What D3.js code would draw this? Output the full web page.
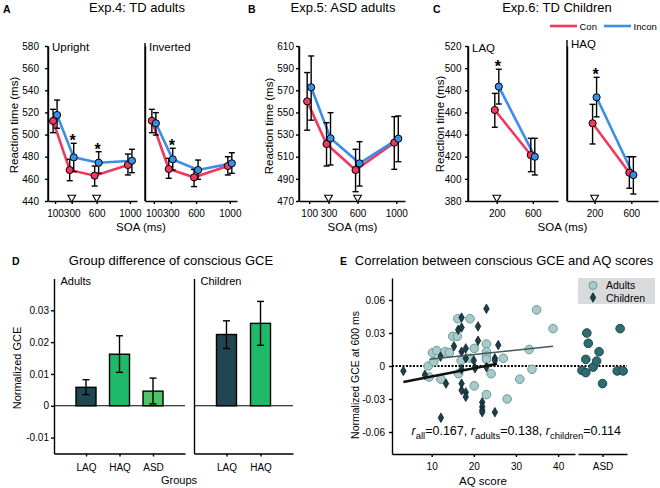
<!DOCTYPE html>
<html>
<head>
<meta charset="utf-8">
<script src="https://cdn.jsdelivr.net/npm/d3@7"></script>
<style>
body { margin: 0; background: #fff; }
svg { font-family: "Liberation Sans", Arial, sans-serif; }
.axis path, .axis line { stroke: #000; stroke-width: 1.4; }
.axis text { fill: #000; }
</style>
</head>
<body>
<svg id="fig" width="660" height="488"></svg>
<script>
// ---- panel A/B/C: reaction times (mean, lower and upper error) ----
const soaAdult = [100, 300, 600, 1000];
const soaChild = [200, 600];
const rtTicksA = [440, 460, 480, 500, 520, 540, 560, 580];
const rtTicksB = [470, 490, 510, 530, 550, 570, 590, 610];
const rtTicksC = [380, 400, 420, 440, 460, 480, 500, 520];

const upCon = [512.3, 468.0, 462.9, 472.5];
const upConLo = [501.7, 458.3, 453.5, 463.5];
const upConHi = [522.8, 477.7, 471.6, 482.4];
const upIncon = [517.7, 479.4, 474.6, 476.4];
const upInconLo = [505.7, 466.5, 465.0, 465.6];
const upInconHi = [531.2, 492.1, 484.5, 486.7];

const invCon = [512.5, 468.9, 461.4, 471.6];
const invConLo = [501.7, 460.5, 453.0, 463.5];
const invConHi = [522.8, 478.5, 468.5, 480.0];
const invIncon = [510.2, 477.6, 468.0, 474.0];
const invInconLo = [499.6, 468.0, 459.6, 465.0];
const invInconHi = [519.8, 487.6, 477.0, 483.6];

const asdCon = [560.0, 521.5, 498.0, 522.7];
const asdConLo = [534.0, 501.6, 478.4, 498.6];
const asdConHi = [586.0, 540.7, 516.7, 546.2];
const asdIncon = [572.7, 526.6, 504.0, 526.3];
const asdInconLo = [543.0, 502.5, 483.5, 505.5];
const asdInconHi = [601.0, 549.8, 523.6, 546.8];

const laqCon = [462.2, 421.5];
const laqConLo = [446.6, 406.5];
const laqConHi = [477.2, 436.6];
const laqIncon = [483.3, 420.0];
const laqInconLo = [467.6, 403.5];
const laqInconHi = [499.0, 436.6];

const haqCon = [450.2, 405.6];
const haqConLo = [431.5, 391.5];
const haqConHi = [467.3, 420.0];
const haqIncon = [473.7, 403.5];
const haqInconLo = [456.0, 386.3];
const haqInconHi = [491.7, 420.0];

// ---- panel D: normalized GCE per group ----
const groupsAdult = ["LAQ", "HAQ", "ASD"];
const gceAdult = [0.0058, 0.0162, 0.0046];
const gceAdultLo = [0.0035, 0.0105, 0.0006];
const gceAdultHi = [0.0082, 0.0220, 0.0087];
const groupsChild = ["LAQ", "HAQ"];
const gceChild = [0.0224, 0.0259];
const gceChildLo = [0.0180, 0.0190];
const gceChildHi = [0.0267, 0.0328];
const gceTicks = [-0.01, 0, 0.01, 0.02, 0.03];

// ---- panel E: AQ score vs GCE at 600 ms ----
const adultsPts = [[9.2,0.000],[9.4,-0.010],[10.2,0.012],[10.5,0.004],[11.2,0.014],[12.2,-0.012],
  [13.2,0.013],[14.2,0.012],[15.0,0.027],[16.1,0.027],[16.2,0.043],[16.4,-0.007],[17.0,0.005],
  [19.1,0.043],[19.2,0.007],[20.1,0.016],[20.1,-0.018],[23.0,0.020],[23.0,0.013],[23.0,0.009],
  [23.0,0.006],[23.0,-0.026],[24.1,-0.007],[27.0,0.007],[27.9,-0.030],[30.9,-0.012],[33.1,0.015],
  [33.8,-0.003],[34.9,0.051],[38.8,0.034]];
const childrenPts = [[3.3,-0.0045],[8.4,-0.008],[12.1,0.0085],[12.2,-0.047],[13.4,-0.016],[15.3,0.018],
  [16.3,0.033],[17.1,0.044],[17.1,0.035],[17.1,0.013],[17.1,-0.003],[17.1,-0.016],[17.1,-0.022],
  [18.1,0.016],[18.1,0.007],[18.1,-0.024],[18.1,-0.028],[20.3,-0.002],[20.0,0.005],[21.0,0.036],
  [21.0,0.023],[22.0,-0.033],[22.0,-0.037],[22.0,-0.040],[22.0,-0.042],[23.0,0.052],[23.0,-0.001],
  [25.0,0.007],[25.0,0.005],[25.8,0.019],[25.0,-0.042]];
// ASD adults: [jitter within ASD column, GCE]
const asdPts = [[0.18,0.030],[0.21,0.0206],[0.16,0.006],[0.08,-0.004],[0.16,-0.006],[0.31,-0.001],
  [0.43,0.013],[0.38,0.0045],[0.50,-0.016],[0.86,0.034],[0.80,-0.0045],[0.92,-0.0045]];
const fitAdults = [[9.5, 0.0062], [38.8, 0.018]];
const fitChildren = [[3.3, -0.0145], [25.5, 0.002]];
const aqTicks = [10, 20, 30, 40];
const corrTicks = [-0.06, -0.03, 0, 0.03, 0.06];

const conColor = "#f0395e", inconColor = "#3b8ee8";
const svg = d3.select("#fig");

function txt(x, y, s, size, opts) {
  opts = opts || {};
  var t = svg.append("text").attr("x", x).attr("y", y).text(s)
    .attr("font-size", size).attr("fill", "#000")
    .attr("text-anchor", opts.anchor || "start")
    .attr("font-weight", opts.bold ? "bold" : "normal");
  if (opts.rot) t.attr("transform", "rotate(-90," + x + "," + y + ")");
  return t;
}

// one reaction-time sub panel
function rtPanel(o) {
  var x = d3.scaleLinear().domain(o.xDomain).range([o.x0, o.x1]);
  var y = o.y;
  var g = svg.append("g");
  var y0 = y.range()[0];

  var yAx = d3.axisLeft(y).tickSize(3).tickSizeOuter(0).tickPadding(o.pad || 3);
  yAx.tickValues(o.ticks || []);
  g.append("g").attr("class", "axis").attr("font-size", 10)
    .attr("transform", "translate(" + o.x0 + ",0)").call(yAx);
  g.append("line").attr("x1", o.x0).attr("x2", o.x0).attr("y1", o.top).attr("y2", y0)
    .attr("stroke", "#000").attr("stroke-width", 1.4);
  g.append("g").attr("class", "axis").attr("font-size", 9)
    .attr("transform", "translate(0," + y0 + ")")
    .call(d3.axisBottom(x).tickValues(o.soa).tickFormat(d3.format("d"))
      .tickSize(3).tickSizeOuter(0).tickPadding(6));

  var series = [
    { m: o.con, lo: o.conLo, hi: o.conHi, c: conColor, dx: -2 },
    { m: o.incon, lo: o.inconLo, hi: o.inconHi, c: inconColor, dx: 2 }
  ];
  series.forEach(function(s) {
    s.pts = o.soa.map(function(v, i) {
      return { x: x(v) + s.dx, m: s.m[i], lo: s.lo[i], hi: s.hi[i] };
    });
    g.append("path").datum(s.pts)
      .attr("d", d3.line().x(d => d.x).y(d => y(d.m)))
      .attr("fill", "none").attr("stroke", s.c).attr("stroke-width", 2.6);
  });
  series.forEach(function(s) {
    var eb = g.selectAll(null).data(s.pts).enter().append("g").attr("stroke", "#000").attr("stroke-width", 1.4);
    eb.append("line").attr("x1", d => d.x).attr("x2", d => d.x).attr("y1", d => y(d.lo)).attr("y2", d => y(d.hi));
    eb.append("line").attr("x1", d => d.x - 3).attr("x2", d => d.x + 3).attr("y1", d => y(d.lo)).attr("y2", d => y(d.lo));
    eb.append("line").attr("x1", d => d.x - 3).attr("x2", d => d.x + 3).attr("y1", d => y(d.hi)).attr("y2", d => y(d.hi));
  });
  series.forEach(function(s) {
    g.selectAll(null).data(s.pts).enter().append("circle")
      .attr("cx", d => d.x).attr("cy", d => y(d.m)).attr("r", 3.6)
      .attr("fill", s.c).attr("stroke", "#000").attr("stroke-width", 1);
  });

  // significance stars above the incongruent error bar
  (o.stars || []).forEach(function(v) {
    var i = o.soa.indexOf(v);
    g.append("text").attr("x", x(v) + 1).attr("y", y(o.inconHi[i]) + 3)
      .attr("text-anchor", "middle").attr("font-size", 16).attr("font-weight", "bold").text("*");
  });
  (o.tris || []).forEach(function(v) {
    g.append("path").attr("d", d3.symbol(d3.symbolTriangle, 26)())
      .attr("transform", "translate(" + x(v) + "," + (y0 - 3.5) + ") rotate(180)")
      .attr("fill", "#fff").attr("stroke", "#000").attr("stroke-width", 1.1);
  });
  if (o.label) txt(o.x0 + 4, o.labelY || 51, o.label, 11.5);
}

var yA = d3.scaleLinear().domain([440, 580]).range([201, 46]);
var yB = d3.scaleLinear().domain([470, 610]).range([201, 46]);
var yC = d3.scaleLinear().domain([380, 520]).range([201, 46]);

rtPanel({ x0: 48, x1: 137, xDomain: [15, 1085], y: yA, top: 46, ticks: rtTicksA, pad: 6, soa: soaAdult,
  con: upCon, conLo: upConLo, conHi: upConHi, incon: upIncon, inconLo: upInconLo, inconHi: upInconHi,
  stars: [300, 600], tris: [300, 600], label: "Upright" });
rtPanel({ x0: 145, x1: 237, xDomain: [-5, 1085], y: yA, top: 43, soa: soaAdult,
  con: invCon, conLo: invConLo, conHi: invConHi, incon: invIncon, inconLo: invInconLo, inconHi: invInconHi,
  stars: [300], tris: [], label: "Inverted" });
rtPanel({ x0: 299, x1: 405, xDomain: [-5, 1090], y: yB, top: 46, ticks: rtTicksB, pad: 2, soa: soaAdult,
  con: asdCon, conLo: asdConLo, conHi: asdConHi, incon: asdIncon, inconLo: asdInconLo, inconHi: asdInconHi,
  stars: [], tris: [300, 600] });
rtPanel({ x0: 468, x1: 558, xDomain: [-120, 880], y: yC, top: 46, ticks: rtTicksC, pad: 3.5, soa: soaChild,
  con: laqCon, conLo: laqConLo, conHi: laqConHi, incon: laqIncon, inconLo: laqInconLo, inconHi: laqInconHi,
  stars: [200], tris: [200], label: "LAQ", labelY: 51.5 });
rtPanel({ x0: 567, x1: 658, xDomain: [-100, 890], y: yC, top: 40, soa: soaChild,
  con: haqCon, conLo: haqConLo, conHi: haqConHi, incon: haqIncon, inconLo: haqInconLo, inconHi: haqInconHi,
  stars: [200], tris: [200], label: "HAQ", labelY: 48 });

// titles and labels, top row
txt(3, 12.5, "A", 10.5, { bold: true });
txt(248, 12.5, "B", 10.5, { bold: true });
txt(433, 12.5, "C", 10.5, { bold: true });
txt(137, 12, "Exp.4: TD adults", 13, { anchor: "middle" });
txt(343, 12, "Exp.5: ASD adults", 13, { anchor: "middle" });
txt(557, 12, "Exp.6: TD Children", 13, { anchor: "middle" });
txt(18, 125, "Reaction time (ms)", 11.5, { anchor: "middle", rot: true });
txt(273, 126, "Reaction time (ms)", 11.5, { anchor: "middle", rot: true });
txt(444, 124, "Reaction time (ms)", 11.5, { anchor: "middle", rot: true });
txt(141, 230.5, "SOA (ms)", 11.5, { anchor: "middle" });
txt(352.5, 230.5, "SOA (ms)", 11.5, { anchor: "middle" });
txt(562.5, 230.5, "SOA (ms)", 11.5, { anchor: "middle" });

// legend of panel C
[["Con", conColor, 550], ["Incon", inconColor, 604]].forEach(function(l) {
  svg.append("line").attr("x1", l[2]).attr("x2", l[2] + 27).attr("y1", 26).attr("y2", 26)
    .attr("stroke", l[1]).attr("stroke-width", 2.6);
  txt(l[2] + 29.5, 29.5, l[0], 9.5);
});

// ---- panel D ----
var yD = d3.scaleLinear().domain([-0.015, 0.04]).range([453.5, 278.5]);
var barColors = { LAQ: "#1f4651", HAQ: "#1fb96a", ASD: "#4ec368" };

function barPanel(o) {
  var x = d3.scalePoint().domain(o.groups).range([o.x0, o.x1]).padding(0.955);
  var g = svg.append("g");
  var yAx = d3.axisLeft(yD).tickSize(3).tickSizeOuter(0).tickPadding(2)
    .tickValues(o.ticks || []).tickFormat(d => d === 0 ? "0" : d.toFixed(2));
  g.append("g").attr("class", "axis").attr("font-size", 10.5)
    .attr("transform", "translate(" + o.x0 + ",0)").call(yAx);
  g.append("g").attr("class", "axis").attr("font-size", 9.5)
    .attr("transform", "translate(0," + yD.range()[0] + ")")
    .call(d3.axisBottom(x).tickSize(3).tickSizeOuter(0).tickPadding(7));
  var data = o.groups.map((k, i) => ({ k: k, v: o.vals[i], lo: o.lo[i], hi: o.hi[i] }));
  g.selectAll("rect").data(data).enter().append("rect")
    .attr("x", d => x(d.k) - 10).attr("width", 20)
    .attr("y", d => yD(d.v)).attr("height", d => yD(0) - yD(d.v))
    .attr("fill", d => barColors[d.k]).attr("stroke", "#000").attr("stroke-width", 1.4);
  g.append("line").attr("x1", o.x0).attr("x2", o.x1).attr("y1", yD(0)).attr("y2", yD(0))
    .attr("stroke", "#000").attr("stroke-width", 1.2);
  var eb = g.selectAll(null).data(data).enter().append("g").attr("stroke", "#000").attr("stroke-width", 1.4);
  eb.append("line").attr("x1", d => x(d.k)).attr("x2", d => x(d.k)).attr("y1", d => yD(d.lo)).attr("y2", d => yD(d.hi));
  eb.append("line").attr("x1", d => x(d.k) - 3.5).attr("x2", d => x(d.k) + 3.5).attr("y1", d => yD(d.lo)).attr("y2", d => yD(d.lo));
  eb.append("line").attr("x1", d => x(d.k) - 3.5).attr("x2", d => x(d.k) + 3.5).attr("y1", d => yD(d.hi)).attr("y2", d => yD(d.hi));
  txt(o.x0 + 6.5, 285, o.label, 11);
}
barPanel({ x0: 54, x1: 185, groups: groupsAdult, vals: gceAdult, lo: gceAdultLo, hi: gceAdultHi, ticks: gceTicks, label: "Adults" });
barPanel({ x0: 194, x1: 293, groups: groupsChild, vals: gceChild, lo: gceChildLo, hi: gceChildHi, label: "Children" });
txt(12, 265, "D", 10.5, { bold: true });
txt(171, 265, "Group difference of conscious GCE", 13, { anchor: "middle" });
txt(20.5, 368, "Normalized GCE", 11, { anchor: "middle", rot: true });
txt(179, 483.5, "Groups", 11, { anchor: "middle" });

// ---- panel E ----
var xE = d3.scaleLinear().domain([0.6, 44]).range([392, 575]);
var xAsd = d3.scaleLinear().domain([0, 1]).range([578, 627]);
var yE = d3.scaleLinear().domain([-0.08, 0.08]).range([454, 278]);

svg.append("g").attr("class", "axis").attr("font-size", 10)
  .attr("transform", "translate(392,0)")
  .call(d3.axisLeft(yE).tickValues(corrTicks).tickSize(3).tickSizeOuter(0).tickPadding(4)
    .tickFormat(d => d === 0 ? "0" : d.toFixed(2)));
svg.append("g").attr("class", "axis").attr("font-size", 10)
  .attr("transform", "translate(0,454)")
  .call(d3.axisBottom(xE).tickValues(aqTicks).tickSize(3).tickSizeOuter(0).tickPadding(6));
svg.append("g").attr("class", "axis").attr("font-size", 10)
  .attr("transform", "translate(0,454)")
  .call(d3.axisBottom(xAsd).tickValues([0.5]).tickFormat(() => "ASD").tickSize(3).tickSizeOuter(0).tickPadding(6));

svg.append("line").attr("x1", 392).attr("x2", 627).attr("y1", yE(0)).attr("y2", yE(0))
  .attr("stroke", "#000").attr("stroke-width", 2).attr("stroke-dasharray", "2,1.5");

svg.selectAll(".adult").data(adultsPts).enter().append("circle")
  .attr("cx", d => xE(d[0])).attr("cy", d => yE(d[1])).attr("r", 4.3)
  .attr("fill", "#a8caca").attr("stroke", "#6e9898").attr("stroke-width", 1);
svg.selectAll(".asd").data(asdPts).enter().append("circle")
  .attr("cx", d => xAsd(d[0])).attr("cy", d => yE(d[1])).attr("r", 4.3)
  .attr("fill", "#2f6c6f").attr("stroke", "#1c4a4c").attr("stroke-width", 1);
var diamond = d3.symbol(d3.symbolDiamond, 26)();
svg.selectAll(".child").data(childrenPts).enter().append("path")
  .attr("d", diamond)
  .attr("transform", d => "translate(" + xE(d[0]) + "," + yE(d[1]) + ")")
  .attr("fill", "#1d3e48").attr("stroke", "#0c262c").attr("stroke-width", 0.8);

var fitLine = d3.line().x(d => xE(d[0])).y(d => yE(d[1]));
svg.append("path").attr("d", fitLine(fitAdults)).attr("stroke", "#3f5a5a").attr("stroke-width", 1.6).attr("fill", "none");
svg.append("path").attr("d", fitLine(fitChildren)).attr("stroke", "#111").attr("stroke-width", 2.6).attr("fill", "none");

// legend
svg.append("rect").attr("x", 578).attr("y", 278).attr("width", 77).attr("height", 26).attr("fill", "#d9dadc");
svg.append("circle").attr("cx", 593).attr("cy", 285.5).attr("r", 4)
  .attr("fill", "#a8caca").attr("stroke", "#6e9898");
svg.append("path").attr("d", diamond).attr("transform", "translate(593,297.5)")
  .attr("fill", "#1d3e48").attr("stroke", "#0c262c").attr("stroke-width", 0.8);
txt(606, 289, "Adults", 10.5);
txt(606, 301.5, "Children", 10.5);

// correlation annotation
var rt = svg.append("text").attr("x", 411.5).attr("y", 435).attr("font-size", 12.5).attr("fill", "#000");
[["all", "=0.167, "], ["adults", "=0.138, "], ["children", "=0.114"]].forEach(function(p) {
  rt.append("tspan").attr("font-style", "italic").text("r");
  rt.append("tspan").attr("font-size", 9.5).attr("dy", 4).text(p[0]);
  rt.append("tspan").attr("dy", -4).text(p[1]);
});

txt(340, 265, "E", 10.5, { bold: true });
txt(504, 265, "Correlation between conscious GCE and AQ scores", 13, { anchor: "middle" });
txt(359, 375, "Normalized GCE at 600 ms", 10.5, { anchor: "middle", rot: true });
txt(483, 484.5, "AQ score", 11.5, { anchor: "middle" });
</script>
</body>
</html>
